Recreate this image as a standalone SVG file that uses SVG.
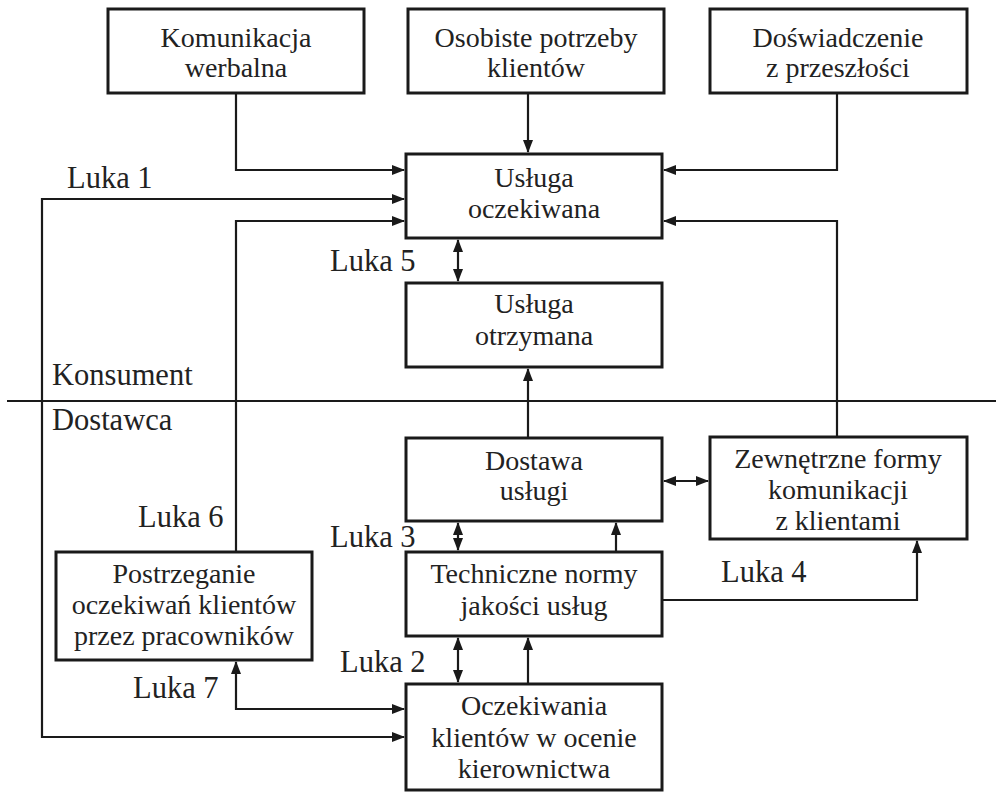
<svg xmlns="http://www.w3.org/2000/svg" width="996" height="792" viewBox="0 0 996 792">
<defs>
<style>
.box{fill:#fff;stroke:#1a1a1a;stroke-width:3}
.t{font-size:28px;fill:#222;text-anchor:middle}
.l{font-size:30.5px;fill:#222}
.c{fill:none;stroke:#1a1a1a;stroke-width:2.2}
</style>
<marker id="ah" markerWidth="13" markerHeight="11" refX="12" refY="5" orient="auto-start-reverse" markerUnits="userSpaceOnUse">
<path d="M0,0 L13,5 L0,10 Z" fill="#1a1a1a"/>
</marker>
</defs>
<rect width="996" height="792" fill="#fff"/>
<g id="connectors">
<line class="c" x1="7" y1="401" x2="996" y2="401"/>
<path class="c" d="M236,93 V170 H404" marker-end="url(#ah)"/>
<path class="c" d="M528,93 V152" marker-end="url(#ah)"/>
<path class="c" d="M837,93 V170 H664" marker-end="url(#ah)"/>
<path class="c" d="M404,737 H42 V199 H404" marker-start="url(#ah)" marker-end="url(#ah)"/>
<path class="c" d="M236,552 V221 H404" marker-end="url(#ah)"/>
<path class="c" d="M837,437 V221 H664" marker-end="url(#ah)"/>
<path class="c" d="M458,240 V281" marker-start="url(#ah)" marker-end="url(#ah)"/>
<path class="c" d="M528,437 V369" marker-end="url(#ah)"/>
<path class="c" d="M664,481 H708" marker-start="url(#ah)" marker-end="url(#ah)"/>
<path class="c" d="M458,523 V550" marker-start="url(#ah)" marker-end="url(#ah)"/>
<path class="c" d="M616,552 V523" marker-end="url(#ah)"/>
<path class="c" d="M662,600 H917 V541" marker-end="url(#ah)"/>
<path class="c" d="M458,638 V682" marker-start="url(#ah)" marker-end="url(#ah)"/>
<path class="c" d="M528,684 V638" marker-end="url(#ah)"/>
<path class="c" d="M236,662 V709 H404" marker-start="url(#ah)" marker-end="url(#ah)"/>
</g>
<g font-family="Liberation Serif, Times New Roman, serif">
<g id="n-komunikacja"><rect class="box" x="108" y="9" width="256" height="84"/><text class="t" x="236" y="47">Komunikacja</text><text class="t" x="236" y="77">werbalna</text></g>
<g id="n-osobiste"><rect class="box" x="408" y="9" width="256" height="84"/><text class="t" x="536" y="47">Osobiste potrzeby</text><text class="t" x="536" y="77">klientów</text></g>
<g id="n-doswiadczenie"><rect class="box" x="710" y="9" width="257" height="84"/><text class="t" x="838" y="47">Doświadczenie</text><text class="t" x="838" y="77">z przeszłości</text></g>
<g id="n-oczekiwana"><rect class="box" x="406" y="154" width="256" height="84"/><text class="t" x="534" y="187">Usługa</text><text class="t" x="534" y="218">oczekiwana</text></g>
<g id="n-otrzymana"><rect class="box" x="406" y="283" width="256" height="84"/><text class="t" x="534" y="313">Usługa</text><text class="t" x="534" y="345">otrzymana</text></g>
<g id="n-dostawa"><rect class="box" x="406" y="438" width="256" height="83"/><text class="t" x="534" y="470">Dostawa</text><text class="t" x="534" y="500">usługi</text></g>
<g id="n-zewnetrzne"><rect class="box" x="710" y="437" width="257" height="102"/><text class="t" x="838" y="468">Zewnętrzne formy</text><text class="t" x="838" y="499">komunikacji</text><text class="t" x="838" y="530">z klientami</text></g>
<g id="n-techniczne"><rect class="box" x="406" y="552" width="256" height="84"/><text class="t" x="534" y="583">Techniczne normy</text><text class="t" x="534" y="615">jakości usług</text></g>
<g id="n-postrzeganie"><rect class="box" x="56" y="552" width="256" height="108"/><text class="t" x="184" y="583">Postrzeganie</text><text class="t" x="184" y="614">oczekiwań klientów</text><text class="t" x="184" y="645">przez pracowników</text></g>
<g id="n-oczekiwania"><rect class="box" x="406" y="684" width="256" height="106"/><text class="t" x="534" y="715">Oczekiwania</text><text class="t" x="534" y="747">klientów w ocenie</text><text class="t" x="534" y="778">kierownictwa</text></g>
<g id="labels">
<text class="l" x="67" y="188">Luka 1</text>
<text class="l" x="330" y="271">Luka 5</text>
<text class="l" x="52" y="385">Konsument</text>
<text class="l" x="52" y="430">Dostawca</text>
<text class="l" x="138" y="527">Luka 6</text>
<text class="l" x="330" y="547">Luka 3</text>
<text class="l" x="721" y="582">Luka 4</text>
<text class="l" x="340" y="672">Luka 2</text>
<text class="l" x="133" y="698">Luka 7</text>
</g>
</g>
</svg>
